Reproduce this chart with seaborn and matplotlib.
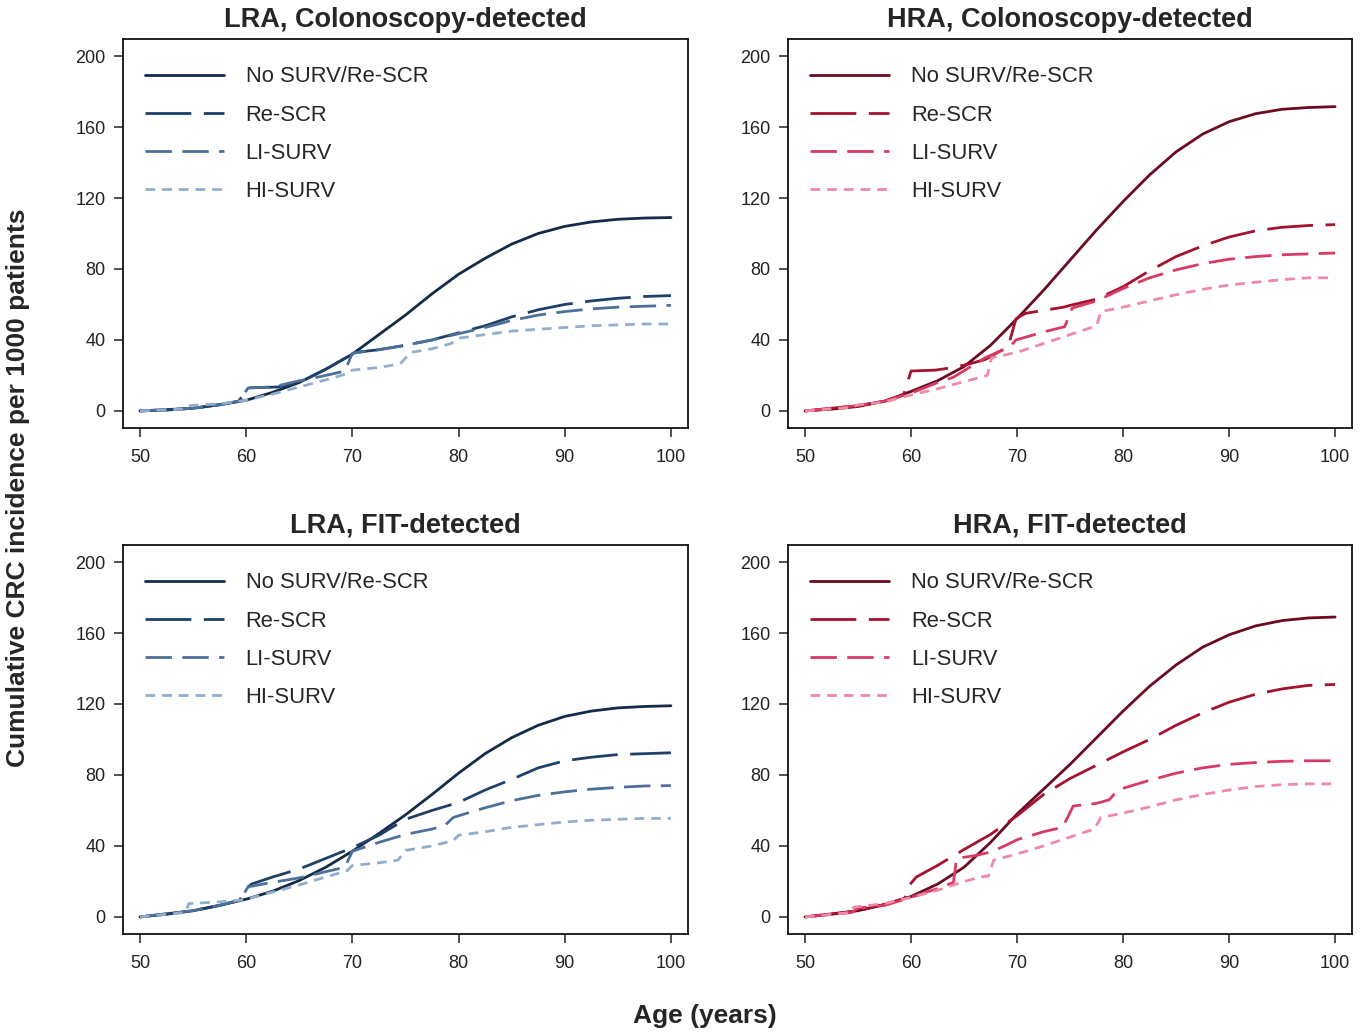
import pandas as pd
import numpy as np
import matplotlib
matplotlib.use("Agg")
import matplotlib.pyplot as plt
import seaborn as sns

# ages shared by the smooth "no surveillance" curves
age_grid = [50, 52.5, 55, 57.5, 60, 62.5, 65, 67.5, 70, 72.5, 75, 77.5, 80,
            82.5, 85, 87.5, 90, 92.5, 95, 97.5, 100]

# --- LRA, colonoscopy-detected ---
lra_col_none = [0, 0.5, 1.5, 3.5, 6, 10.5, 16, 23.5, 32, 43, 54, 66, 77,
                86, 94, 100, 104, 106.5, 108, 108.7, 109]
lra_col_rescr_age = [50, 55, 57.5, 59.3, 60.2, 63, 65, 67.5, 70, 70.3, 72.5, 75,
                     77.5, 80, 82.5, 85, 87.5, 90, 92.5, 95, 97.5, 100]
lra_col_rescr = [0, 1.5, 3.5, 5.5, 13, 13.5, 16, 23.5, 32, 33, 34.5, 37,
                 40, 44, 48, 53, 57, 60, 62, 63.5, 64.5, 65]
lra_col_li_age = [50, 55, 57.5, 59.3, 60.2, 62.5, 65, 67.5, 69.3, 70, 72.5, 75,
                  77.5, 80, 82.5, 85, 87.5, 90, 92.5, 95, 97.5, 100]
lra_col_li = [0, 1.5, 3.5, 5.5, 13, 13.5, 17, 20, 22.5, 32.5, 34.5, 37,
              40, 43.5, 47, 51, 54, 56, 57.5, 58.5, 59, 59.5]
lra_col_hi_age = [50, 54, 54.5, 57.5, 60, 62.5, 65, 67.5, 69.5, 70, 72.5, 74.5,
                  75.5, 77.5, 79.3, 80, 82.5, 85, 87.5, 90, 92.5, 95, 97.5, 100]
lra_col_hi = [0, 1, 3, 4, 6, 9.5, 13.5, 17.5, 21, 23, 24.5, 26.5,
              33, 35, 38, 41, 43, 45, 46, 47, 48, 48.5, 49, 49]

# --- HRA, colonoscopy-detected ---
hra_col_none = [0, 1, 2.5, 5.5, 11, 17, 25, 37, 52, 68, 85, 102, 118,
                133, 146, 156, 163, 167.5, 170, 171, 171.5]
hra_col_rescr_age = [50, 55, 57.5, 59.3, 60, 62.3, 64, 65.5, 67, 68.5, 69.2, 69.9,
                     70.8, 74.4, 75, 77.5, 80, 82.5, 85, 87.5, 90, 92.5, 95, 97.5, 100]
hra_col_rescr = [0, 3, 5.5, 9, 22.5, 23, 24.5, 26.5, 29, 34, 37, 52,
                 55, 58.5, 59.5, 63, 70, 79, 87, 93, 98, 101.5, 103.5, 104.5, 105]
hra_col_li_age = [50, 55, 57.5, 60, 62.5, 64, 67, 68.5, 69.3, 69.9, 72.5, 74.5,
                  75.2, 77.5, 80, 82.5, 85, 87.5, 90, 92.5, 95, 97.5, 100]
hra_col_li = [0, 3, 5.5, 10, 16, 19, 30, 34, 36, 40, 44.5, 47.5,
              58, 62, 69, 75, 79.5, 83, 85.5, 87, 88, 88.5, 89]
hra_col_hi_age = [50, 54.4, 55, 57.5, 60, 62.5, 65, 67.2, 67.6, 70, 72.5, 75,
                  77.5, 77.9, 80, 82.5, 85, 87.5, 90, 92.5, 95, 97.5, 100]
hra_col_hi = [0, 2, 3.5, 5, 9, 12.5, 16.5, 20, 30, 33, 38, 43,
              48, 56, 58.5, 62, 65.5, 68.5, 71, 72.5, 74, 75, 75]

# --- LRA, FIT-detected ---
lra_fit_none = [0, 1.5, 3.5, 6.5, 10, 14.5, 20.5, 28, 37, 47, 57.5, 69, 81,
                92, 101, 108, 113, 116, 117.8, 118.6, 119]
lra_fit_rescr_age = [50, 55, 57.5, 59.4, 60, 60.5, 62.5, 65, 67.5, 70, 72.5, 75,
                     77.5, 80, 82.5, 85, 87.5, 90, 92.5, 95, 97.5, 100]
lra_fit_rescr = [0, 3.5, 6.5, 9.5, 16, 18.5, 22.5, 27, 33, 39, 46, 55,
                 60, 64.5, 71.5, 77.5, 84, 88, 90, 91.5, 92, 92.5]
lra_fit_li_age = [50, 55, 57.5, 59.4, 60.2, 62.5, 65, 67.5, 69.3, 70, 72.5, 75,
                  77.5, 78.7, 79.5, 80, 82.5, 85, 87.5, 90, 92.5, 95, 97.5, 100]
lra_fit_li = [0, 3.5, 6.5, 9.5, 17, 19.5, 22, 25.5, 28, 37, 42, 46.5,
              49.5, 51.5, 56, 57, 61.5, 65.5, 68.5, 70.5, 72, 73, 73.8, 74]
lra_fit_hi_age = [50, 52.5, 54.3, 54.6, 57.5, 59.5, 60, 62.5, 65, 67.5, 69.5, 70,
                  72.5, 74.3, 75, 77.5, 79.5, 80, 82.5, 85, 87.5, 90, 92.5, 95, 97.5, 100]
lra_fit_hi = [0, 1.5, 2.5, 7.5, 8.5, 9.5, 10, 14, 18, 22.5, 26, 29,
              30.5, 32, 37.5, 40, 43, 46, 48, 50.5, 52, 53.5, 54.5, 55, 55.5, 55.5]

# --- HRA, FIT-detected ---
hra_fit_none = [0, 1.5, 3.5, 7, 11.5, 18.5, 28, 42, 58, 72, 86, 101, 116,
                130, 142, 152, 159, 164, 167, 168.5, 169]
hra_fit_rescr_age = [50, 55, 57.5, 59.4, 60, 60.5, 62.5, 65, 67.5, 70, 72.5, 75,
                     77.5, 80, 82.5, 85, 87.5, 90, 92.5, 95, 97.5, 100]
hra_fit_rescr = [0, 3.5, 7, 10.5, 19, 22.5, 29, 38, 46.5, 57, 69, 78,
                 85.5, 93, 100, 108, 115, 121, 125.5, 128.5, 130.5, 131]
hra_fit_li_age = [50, 54.4, 55, 57.5, 60, 62.5, 64, 64.3, 66, 67.5, 69, 70,
                  72.5, 74.3, 75.3, 77.5, 78.7, 79.5, 80, 82.5, 85, 87.5, 90,
                  92.5, 95, 97.5, 100]
hra_fit_li = [0, 2.5, 5, 6.5, 11, 16, 19.5, 33, 34.5, 36.5, 40.5, 43.5,
              48, 50.5, 62.5, 64, 66, 71.5, 72.5, 77, 81, 84, 86,
              87, 87.7, 88, 88]
hra_fit_hi_age = [50, 54.3, 54.6, 57.5, 60, 62.5, 64.5, 66.5, 67.3, 67.8, 70, 72.5,
                  75, 77.3, 77.9, 80, 82.5, 85, 87.5, 90, 92.5, 95, 97.5, 100]
hra_fit_hi = [0, 2.5, 5.5, 7.5, 11, 15, 19, 22.5, 23, 32, 35.5, 40,
              45, 49.5, 56, 58.5, 62, 66, 69, 71.5, 73.5, 74.5, 75, 75]

series_names = ["No SURV/Re-SCR", "Re-SCR", "LI-SURV", "HI-SURV"]
blues = ["#132b49", "#1f4169", "#4d7099", "#93aecd"]
reds = ["#6b0b21", "#a3122f", "#d93a62", "#ee8aa5"]

panels = [
    ("LRA, Colonoscopy-detected", blues,
     [(age_grid, lra_col_none), (lra_col_rescr_age, lra_col_rescr),
      (lra_col_li_age, lra_col_li), (lra_col_hi_age, lra_col_hi)]),
    ("HRA, Colonoscopy-detected", reds,
     [(age_grid, hra_col_none), (hra_col_rescr_age, hra_col_rescr),
      (hra_col_li_age, hra_col_li), (hra_col_hi_age, hra_col_hi)]),
    ("LRA, FIT-detected", blues,
     [(age_grid, lra_fit_none), (lra_fit_rescr_age, lra_fit_rescr),
      (lra_fit_li_age, lra_fit_li), (lra_fit_hi_age, lra_fit_hi)]),
    ("HRA, FIT-detected", reds,
     [(age_grid, hra_fit_none), (hra_fit_rescr_age, hra_fit_rescr),
      (hra_fit_li_age, hra_fit_li), (hra_fit_hi_age, hra_fit_hi)]),
]

sns.set_style("ticks")
plt.rcParams["font.family"] = ["Liberation Sans", "DejaVu Sans"]
plt.rcParams["lines.scale_dashes"] = False
plt.rcParams["axes.linewidth"] = 1.3
plt.rcParams["axes.edgecolor"] = "#111111"

dash_styles = {
    "No SURV/Re-SCR": "",
    "Re-SCR": (33, 9),
    "LI-SURV": (19, 7.5),
    "HI-SURV": (7, 5),
}

fig = plt.figure(figsize=(13.66, 10.32), dpi=100)
positions = [
    [0.0900, 0.5853, 0.4136, 0.3769],
    [0.5769, 0.5853, 0.4129, 0.3769],
    [0.0900, 0.0950, 0.4136, 0.3769],
    [0.5769, 0.0950, 0.4129, 0.3769],
]

for pos, (title, colors, curves) in zip(positions, panels):
    ax = fig.add_axes(pos)
    frames = []
    for name, (ages, vals) in zip(series_names, curves):
        frames.append(pd.DataFrame({"age": ages, "value": vals, "series": name}))
    df = pd.concat(frames, ignore_index=True)

    sns.lineplot(data=df, x="age", y="value", hue="series", style="series",
                 hue_order=series_names, style_order=series_names,
                 palette=dict(zip(series_names, colors)), dashes=dash_styles,
                 linewidth=2.0, errorbar=None, ax=ax)

    ax.set_xlim(48.4, 101.6)
    ax.set_ylim(-9.6, 209.6)
    ax.set_xticks([50, 60, 70, 80, 90, 100])
    ax.set_yticks([0, 40, 80, 120, 160, 200])
    ax.tick_params(axis="both", labelsize=13, length=6.5, width=1.1,
                   colors="#222222")
    ax.tick_params(axis="x", pad=9)
    ax.tick_params(axis="y", pad=6)
    ax.set_xlabel("")
    ax.set_ylabel("")
    ax.set_title(title, fontsize=19.5, fontweight="bold", pad=9)
    for sp in ax.spines.values():
        sp.set_visible(True)

    sns.move_legend(ax, "upper left", bbox_to_anchor=(-0.01, 1.0), title=None,
                    frameon=False, fontsize=15.8, handlelength=3.6,
                    handletextpad=1.0, labelspacing=0.78, borderpad=1.15,
                    borderaxespad=0.1)

fig.text(0.0135, 0.527, "Cumulative CRC incidence per 1000 patients",
         rotation=90, fontsize=19, fontweight="bold", ha="center", va="center")
fig.text(0.516, 0.0155, "Age (years)", fontsize=19, fontweight="bold",
         ha="center", va="center")

fig.savefig("out.png", dpi=100)
